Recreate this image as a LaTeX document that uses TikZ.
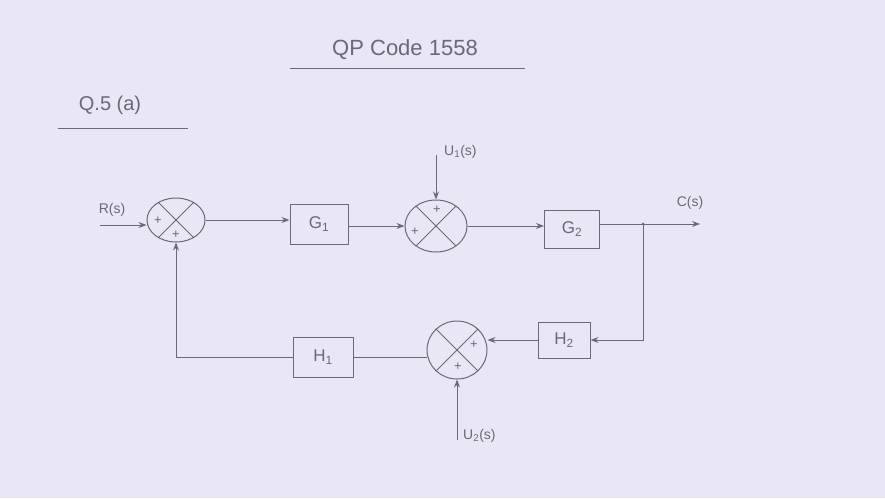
\documentclass[tikz,border=0pt]{standalone}
\usepackage{fontspec}
\setmainfont{Liberation Sans}
\usetikzlibrary{shapes.geometric,arrows.meta}
\definecolor{paper}{RGB}{233,231,245}
\definecolor{ink}{RGB}{105,104,125}
\tikzset{
  x=1pt,y=-1pt,
  wire/.style={draw=ink,line width=1pt},
  arr/.style={wire,-{Stealth[length=8pt,width=6pt]}},
  blk/.style={draw=ink,line width=1pt,minimum width=58pt,minimum height=40pt,inner sep=0pt,text=ink,font=\fontsize{17}{19}\selectfont},
  sumj/.style={ellipse,draw=ink,line width=1pt,minimum width=60pt,minimum height=50pt,inner sep=0pt},
  lbl/.style={text=ink,font=\fontsize{14}{16}\selectfont,inner sep=1pt},
  sgn/.style={text=ink,font=\fontsize{13}{14}\selectfont,inner sep=0pt}
}
\begin{document}
\begin{tikzpicture}
\fill[paper] (0,0) rectangle (885,498);
\useasboundingbox (0,0) rectangle (885,498);
% headings
\node[lbl,font=\fontsize{22}{24}\selectfont] (title) at (405,50) {QP Code 1558};
\draw[wire] (290,68) -- (525,68);
\node[lbl,font=\fontsize{20}{22}\selectfont] (q) at (110,105) {Q.5 (a)};
\draw[wire] (58,128) -- (188,128);
% junctions
\node[sumj,minimum width=58pt,minimum height=44pt] (j1) at (176,220) {};
\node[sumj,minimum width=62pt,minimum height=52pt] (j2) at (436,226) {};
\node[sumj,minimum width=60pt,minimum height=58pt] (j3) at (457,350) {};
\foreach \j in {j1,j2,j3}{
  \draw[wire] (\j.45) -- (\j.225);
  \draw[wire] (\j.135) -- (\j.315);
}
% blocks
\node[blk] (g1) at (319,224) {G\textsubscript{1}};
\node[blk,minimum width=55pt,minimum height=38pt] (g2) at (572,229) {G\textsubscript{2}};
\node[blk,minimum width=52pt,minimum height=36pt] (h2) at (564,340) {H\textsubscript{2}};
\node[blk,minimum width=60pt,minimum height=40pt] (h1) at (323,357) {H\textsubscript{1}};
% signs
\node[sgn] (s1a) at (158,221) {+};
\node[sgn] (s1b) at (176,235) {+};
\node[sgn] (s2a) at (415,232) {+};
\node[sgn] (s2b) at (437,210) {+};
\node[sgn] (s3a) at (474,345) {+};
\node[sgn] (s3b) at (458,367) {+};
% inputs/outputs
\coordinate (rin) at (100,225);
\node[lbl] (rlab) at (112,210) {R(s)};
\draw[arr] (rin) -- (j1.west |- rin);
\draw[arr] (j1.east) -- (g1.west |- j1.east);
\draw[arr] (g1.east |- j2.west) -- (j2.west);
\draw[arr] (j2.east) -- (g2.west |- j2.east);
\coordinate (u1) at (436,155);
\node[lbl,anchor=west] (u1lab) at (443,152) {U\textsubscript{1}(s)};
\draw[arr] (u1) -- (j2.north);
\coordinate (bp) at (643,224);
\coordinate (cout) at (700,224);
\node[lbl] (clab) at (690,203) {C(s)};
\draw[wire] (g2.east |- bp) -- (bp);
\draw[arr] (bp) -- (cout);
\fill[ink] (bp) circle (1.5pt);
% feedback
\coordinate (fb) at (643,340);
\draw[arr] (bp) -- (fb) -- (h2.east);
\draw[arr] (h2.west) -- (j3.east |- h2.west);
\draw[wire] (j3.west |- h1.east) -- (h1.east);
\coordinate (fl) at (176,357);
\draw[arr] (h1.west) -- (fl) -- (j1.south);
\coordinate (u2) at (457,440);
\node[lbl,anchor=west] (u2lab) at (462,436) {U\textsubscript{2}(s)};
\draw[arr] (u2) -- (j3.south);
\end{tikzpicture}
\end{document}
